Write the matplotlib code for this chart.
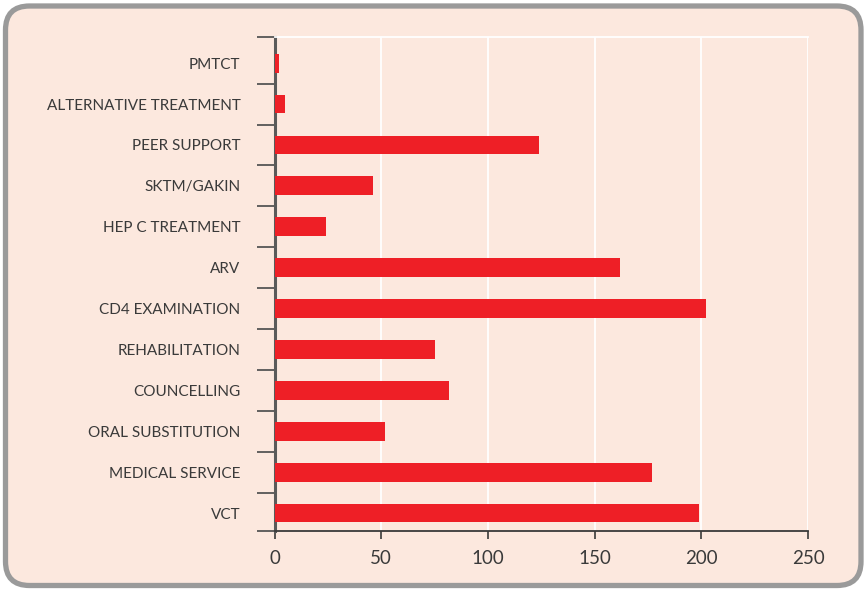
import matplotlib
matplotlib.use("Agg")
import matplotlib.pyplot as plt
from matplotlib.patches import FancyBboxPatch
from matplotlib.ticker import FixedLocator

# Services accessed (number of respondents)
categories = [
    "PMTCT", "ALTERNATIVE TREATMENT", "PEER SUPPORT", "SKTM/GAKIN",
    "HEP C TREATMENT", "ARV", "CD4 EXAMINATION", "REHABILITATION",
    "COUNCELLING", "ORAL SUBSTITUTION", "MEDICAL SERVICE", "VCT",
]
values = [2, 5, 124, 46, 24, 162, 202, 75, 82, 52, 177, 199]
x_ticks = [0, 50, 100, 150, 200, 250]

BG = "#FCE8DE"
BAR = "#EE1F26"
TEXT = "#3A3A3A"

W, H, DPI = 867, 591, 100
fig = plt.figure(figsize=(W / DPI, H / DPI), dpi=DPI, facecolor="white")
plt.rcParams["font.family"] = ["Lato", "DejaVu Sans"]

# Rounded panel behind the chart, drawn in pixel units
frame = fig.add_axes([0, 0, 1, 1])
frame.set_xlim(0, W)
frame.set_ylim(0, H)
frame.axis("off")
frame.add_patch(FancyBboxPatch((5.5, 5.5), W - 11.5, H - 11.5,
                               boxstyle="round,pad=0,rounding_size=24",
                               facecolor=BG, edgecolor="#9A9A9A", lw=3.8))

# Plot area
left, right = 274.5 / W, 808 / W
top, bottom = 37 / H, 531 / H
ax = fig.add_axes([left, 1 - bottom, right - left, bottom - top])
ax.set_facecolor("none")

n = len(categories)
pos = list(range(n - 1, -1, -1))  # first category at the top
ax.barh(pos, values, height=0.46, color=BAR, zorder=3)

ax.set_xlim(0, 250)
ax.set_ylim(-0.44, n - 1 + 0.64)

ax.set_xticks(x_ticks)
ax.set_xticklabels([str(t) for t in x_ticks], fontsize=13.5, color=TEXT)
ax.xaxis.grid(True, color="white", lw=1.3, zorder=1)
ax.tick_params(axis="x", direction="out", length=6, width=1.2,
               color="#3A3A3A", pad=8)

ax.set_yticks(pos)
ax.set_yticklabels(categories, fontsize=11, color=TEXT)
ax.tick_params(axis="y", which="major", length=0, pad=24.5)
bounds = [-0.44] + [k + 0.5 for k in range(n - 1)] + [n - 1 + 0.64]
ax.yaxis.set_minor_locator(FixedLocator(bounds))
ax.tick_params(axis="y", which="minor", direction="out", length=13,
               width=1.3, color="#555555")

ax.spines["left"].set_color("#5A5A5A")
ax.spines["left"].set_linewidth(2.2)
ax.spines["bottom"].set_color("#3A3A3A")
ax.spines["bottom"].set_linewidth(1.3)
ax.spines["top"].set_color("white")
ax.spines["top"].set_linewidth(1.3)
ax.spines["right"].set_visible(False)
ax.set_axisbelow(True)

fig.savefig("out.png", dpi=DPI, facecolor="white")
